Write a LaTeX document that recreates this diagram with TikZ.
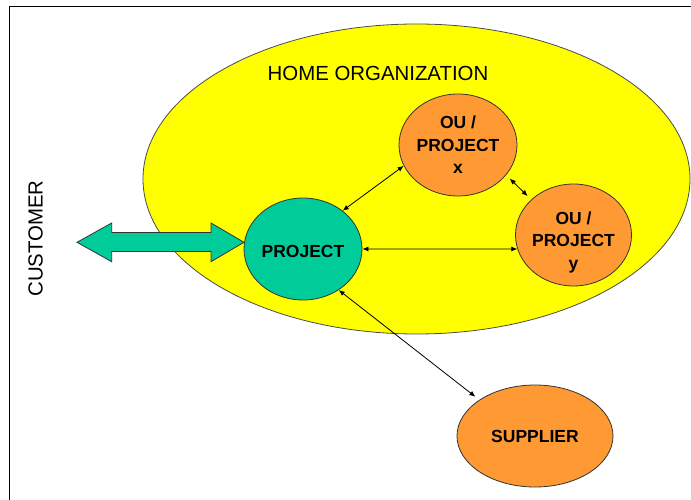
\documentclass[tikz,border=0pt]{standalone}
\usepackage{fontspec}
\setmainfont{Liberation Sans}
\usetikzlibrary{shapes.geometric,arrows.meta}
\definecolor{homeyellow}{RGB}{255,255,0}
\definecolor{projteal}{RGB}{0,204,153}
\definecolor{unitorange}{RGB}{255,153,51}
\begin{document}
\begin{tikzpicture}[x=1pt,y=-1pt,
  oval/.style={ellipse, draw=black!80, line width=0.8pt, inner sep=0pt, align=center,
    font=\fontsize{17.5}{22.5}\selectfont\bfseries},
  ovaltext/.style={inner sep=0pt, align=center, font=\fontsize{17.5}{22.5}\selectfont\bfseries},
  link/.style={line width=0.8pt, {Latex[length=6pt,width=5pt]}-{Latex[length=6pt,width=5pt]}},
  biglabel/.style={font=\fontsize{20.4}{24}\selectfont, inner sep=0pt},
]
\useasboundingbox (0,0) rectangle (691,500);
\fill[white] (0,0) rectangle (691,500);
\draw[line width=1.5pt] (9.5,510) -- (9.5,6.5) -- (700,6.5);

\node[ellipse, draw=black!70, line width=0.8pt, fill=homeyellow, minimum width=547pt,
  minimum height=310pt, inner sep=0pt] (home) at (416.5,179) {};
\node[biglabel] (homelabel) at (378,73) {HOME ORGANIZATION};
\node[biglabel, rotate=90] (customer) at (35.5,238.5) {CUSTOMER};

\draw[fill=projteal, draw=black!80, line width=0.8pt]
  (77,242.3) -- (111.7,223) -- (111.7,232.5) -- (211,232.5) -- (211,223) -- (244,242.3)
  -- (211,261.7) -- (211,251.5) -- (111.7,251.5) -- (111.7,261.7) -- cycle;

\node[oval, fill=projteal, minimum width=118pt, minimum height=102pt] (proj) at (303,249) {};
\node[ovaltext] (projlabel) at (303,251) {PROJECT};
\node[oval, fill=unitorange, minimum width=118pt, minimum height=102pt] (oux) at (458,145) {OU /\\PROJECT\\x};
\node[oval, fill=unitorange, minimum width=116pt, minimum height=102pt] (ouy) at (573.5,235) {};
\node[ovaltext] (ouylabel) at (573.5,242) {OU /\\PROJECT\\y};
\node[oval, fill=unitorange, minimum width=156pt, minimum height=102pt] (sup) at (535,436) {SUPPLIER};

\draw[link] (proj.44) -- (oux.201);
\draw[link, shorten <=5pt, shorten >=5pt] (oux.-32) -- (ouy.140);
\draw[link] (proj.east) -- (ouy.194);
\draw[link, shorten >=5pt] (proj.-49) -- (sup.147);
\end{tikzpicture}
\end{document}
